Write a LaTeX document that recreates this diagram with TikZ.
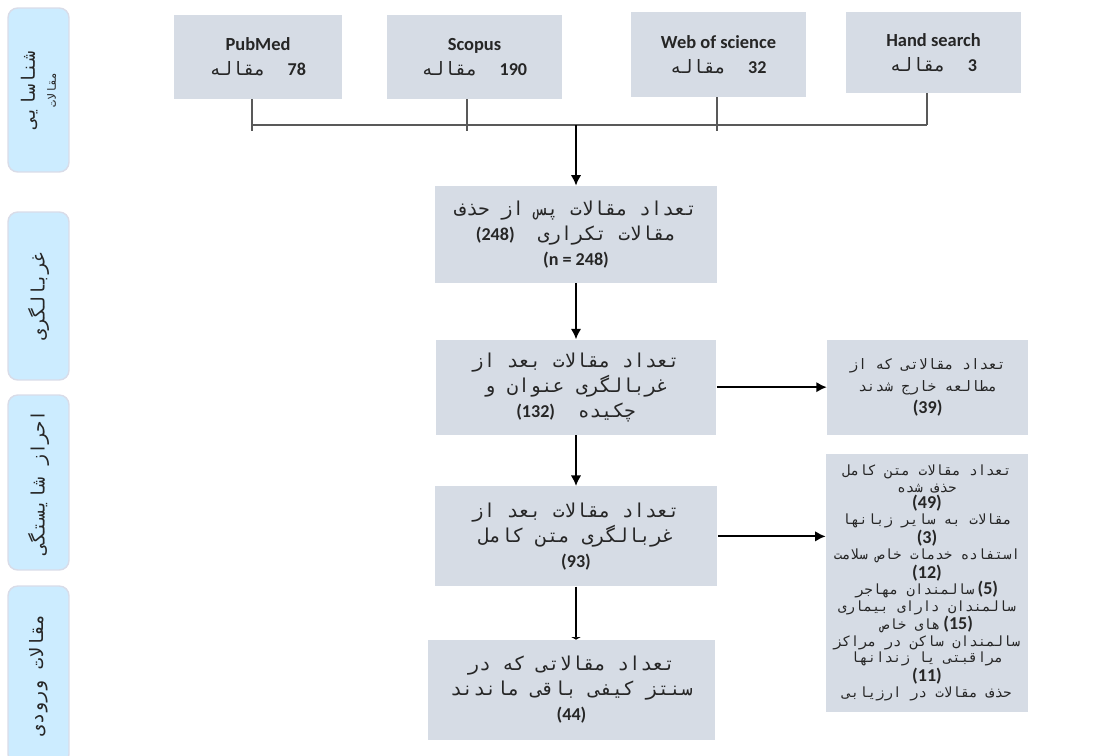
\documentclass[tikz,border=0pt]{standalone}
\usepackage{fontspec}
\setmainfont{Carlito}
\newfontfamily\arabicfont[Script=Arabic]{DejaVu Sans Mono}
\TeXXeTstate=1
\usepackage{tikz}
\usetikzlibrary{positioning, arrows.meta}
\definecolor{boxgray}{HTML}{D6DCE5}
\definecolor{stageblue}{HTML}{CCECFF}
\definecolor{stageedge}{HTML}{D9DCE8}
\definecolor{busgray}{HTML}{595959}
\newcommand{\fa}[1]{{\arabicfont\mdseries\beginR #1\endR}}
\newcommand{\nb}[1]{{\normalfont\bfseries\fontsize{10.3}{12}\selectfont #1}}
\newcommand{\nm}[1]{\beginL\nb{#1}\endL{}}
\tikzset{
    base/.style={inner sep=2pt, align=center, text=black!85},
    box/.style={base, rectangle, fill=boxgray, font=\fontsize{10.9}{14.2}\selectfont},
    smallbox/.style={box, font=\fontsize{8.2}{12.5}\selectfont},
    tightbox/.style={box, font=\fontsize{8}{9.3}\selectfont},
    srcbox/.style={box, font=\fontsize{10.5}{14}\selectfont\bfseries},
    stage/.style={base, rectangle, rotate=90, rounded corners=5.5pt, fill=stageblue, draw=stageedge, line width=0.8pt, minimum height=1.22cm, font=\fontsize{10.5}{12}\selectfont},
    arrow/.style={-{Latex[length=6pt,width=6pt]}, line width=1.1pt},
    bararrow/.style={-{Latex[length=1.5pt,width=6pt]}, line width=1.1pt},
    tick/.style={draw=busgray, line width=0.6pt}
}

\begin{document}
\begin{tikzpicture}[x=0.02cm, y=-0.02cm]
    \path [use as bounding box] (0,0) rectangle (1108,755);
    \clip (0,0) rectangle (1108,755);

    % Stage labels (left column)
    \node [stage, minimum width=3.28cm] (ident) at (38.5,90) {\fa{شناسایی}\\{\fontsize{6.5}{7}\selectfont\fa{مقالات}}};
    \node [stage, minimum width=3.36cm] (sift) at (38.5,296) {\fa{غربالگری}};
    \node [stage, minimum width=3.5cm] (elig) at (38.5,482.5) {\fa{احراز شایستگی}};
    \node [stage, minimum width=3.56cm] (entry) at (38.5,675) {\fa{مقالات ورودی}};

    % Sources
    \node [srcbox, minimum width=3.36cm, minimum height=1.68cm] (pubmed) at (258,57) {PubMed\\ \fa{\nm{78}\ \ مقاله}};
    \node [srcbox, minimum width=3.5cm, minimum height=1.68cm] (scopus) at (474.5,57) {Scopus\\ \fa{\nm{190}\ \ مقاله}};
    \node [srcbox, minimum width=3.5cm, minimum height=1.7cm] (wos) at (718.5,54.5) {Web of science\\ \fa{\nm{32}\ \ مقاله}};
    \node [srcbox, minimum width=3.5cm, minimum height=1.62cm] (hand) at (933.5,52.5) {Hand search\\ \fa{\nm{3}\ \ مقاله}};

    % Main flow (vertical layout)
    \node [box, minimum width=5.64cm, minimum height=1.94cm] (dedup) at (576,234.5) {\fa{تعداد مقالات پس از حذف}\\ \fa{مقالات تکراری\ \ \nm{(248)}}\\ \nb{(n = 248)}};
    \node [box, minimum width=5.62cm, minimum height=1.9cm, below=1.12cm of dedup] (screen) {\fa{تعداد مقالات بعد از}\\ \fa{غربالگری عنوان و}\\ \fa{چکیده\ \ \nm{(132)}}};
    \node [smallbox, minimum width=4.02cm, minimum height=1.9cm, right=2.2cm of screen] (excl) {\fa{تعداد مقالاتی که از}\\ \fa{مطالعه خارج شدند}\\ \nb{(39)}};
    \node [box, minimum width=5.66cm, minimum height=2cm, below=1.02cm of screen] (full) {\fa{تعداد مقالات بعد از}\\ \fa{غربالگری متن کامل}\\ \nb{(93)}};
    \node [tightbox, minimum width=4.04cm, minimum height=5.16cm] (reasons) at (927,583) {\fa{تعداد مقالات متن کامل}\\ \fa{حذف شده}\\ \nb{(49)}\\ \fa{مقالات به سایر زبانها}\\ \nb{(3)}\\ \fa{استفاده خدمات خاص سلامت}\\ \nb{(12)}\\ \fa{سالمندان مهاجر} \nb{(5)}\\ \fa{سالمندان دارای بیماری}\\ \fa{های خاص} \nb{(15)}\\ \fa{سالمندان ساکن در مراکز}\\ \fa{مراقبتی یا زندانها}\\ \nb{(11)}\\ \fa{حذف مقالات در ارزیابی}};
    \node [box, minimum width=5.76cm, minimum height=2cm, below=1.06cm of full, xshift=-0.09cm] (incl) {\fa{تعداد مقالاتی که در}\\ \fa{سنتز کیفی باقی ماندند}\\ \nb{(44)}};

    % Bus joining the sources
    \coordinate (busL) at (252,125);
    \coordinate (busR) at (927,125);
    \coordinate (join) at (576,125);
    \draw [tick] (pubmed.south -| busL) -- ++(0,32);
    \draw [tick] ([xshift=-0.15cm]scopus.south) -- ++(0,32);
    \draw [tick] ([xshift=-0.03cm]wos.south) -- ++(0,34);
    \draw [tick] (hand.south -| busR) -- (busR);
    \draw [tick] (busL) -- (busR);

    % Connections
    \draw [arrow] (join) -- (dedup.north);
    \draw [arrow] (dedup.south) -- (screen.north);
    \draw [arrow] (screen.east) -- (screen.east -| excl.west);
    \draw [arrow] (screen.south) -- (full.north);
    \draw [arrow] (full.east) -- (full.east -| reasons.west);
    \draw [bararrow] (full.south) -- (full.south |- incl.north);
\end{tikzpicture}
\end{document}
